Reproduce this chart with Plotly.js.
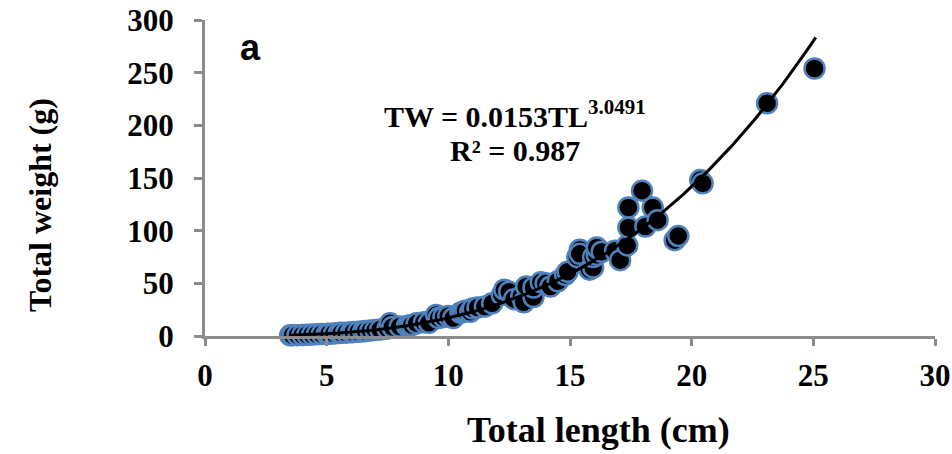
<!DOCTYPE html>
<html>
<head>
<meta charset="utf-8">
<script src="https://cdn.plot.ly/plotly-3.0.1.min.js"></script>
<style>html,body{margin:0;padding:0;background:#fff;}#chart{width:952px;height:454px;}</style>
</head>
<body>
<div id="chart"></div>
<script>
// Observed fish: total length (cm) and total weight (g)
const totalLength = [3.5,3.6,3.8,4.0,4.2,4.4,4.6,4.8,5.0,5.1,5.3,5.5,5.6,5.8,6.0,6.1,6.3,6.5,6.6,6.8,
  7.0,7.2,7.5,7.6,7.7,8.0,8.3,8.4,8.5,8.7,9.0,9.2,9.5,9.6,9.8,10.0,10.2,10.5,10.6,10.7,10.9,11.0,11.2,
  11.5,11.8,12.2,12.3,12.5,12.7,13.0,13.1,13.2,13.5,13.5,13.8,14.0,14.2,14.5,14.8,14.9,15.3,15.4,15.4,
  15.8,15.95,15.95,16.1,16.1,16.3,16.85,17.06,17.35,17.4,17.4,17.96,18.1,18.4,18.6,19.3,19.45,20.35,20.45,23.1,25.05];
const totalWeight = [0.6,0.7,0.8,1.0,1.2,1.4,1.6,1.9,2.0,2.2,2.4,2.8,3.0,3.2,3.5,3.8,4.0,4.5,4.8,5.2,
  5.8,6.2,7.0,12,8.5,9.0,9.5,10,10.5,12,13,12.5,20,17,18,19,17,22,23,24,23,26,27,
  28,31,39,44,42,35,38,32,47,37,46,51,50,47,52,58,61,75,82,78,
  63,65,75,77,84,80,81,72,86,103,122,138,104,122,110,91,95,148,145,221,254];
// Power trendline shown on the chart
const fitCoef = 0.0153, fitExp = 3.0491, fitR2 = 0.987;
const fitStart = 3.5, fitEnd = 25.1, fitStep = 0.1;
const xTicks = [0,5,10,15,20,25,30];
const yTicks = [0,50,100,150,200,250,300];

const fitX = [], fitY = [];
for (let x = fitStart; x <= fitEnd + 1e-9; x += fitStep) { fitX.push(x); fitY.push(fitCoef*Math.pow(x, fitExp)); }

const serif = 'Liberation Serif';
const axisCol = '#8c8c8c';
// plot-area geometry (pixels) used to place free texts
const L = 205, R = 935, T = 20, B = 336;
const px = x => (x - L) / (R - L);
const py = y => (B - y) / (B - T);

const traces = [
  {x: totalLength, y: totalWeight, type: 'scatter', mode: 'markers', cliponaxis: false,
   marker: {color: '#000000', size: 20, line: {color: '#4f81bd', width: 2.5}}, showlegend: false, hoverinfo: 'x+y'},
  {x: fitX, y: fitY, type: 'scatter', mode: 'lines', cliponaxis: false,
   line: {color: '#000000', width: 3}, showlegend: false, hoverinfo: 'skip'}
];

const layout = {
  width: 952, height: 454,
  margin: {l: L, r: 952 - R, t: T, b: 454 - B},
  paper_bgcolor: '#ffffff', plot_bgcolor: '#ffffff',
  showlegend: false,
  xaxis: {range: [0, 30], tickvals: xTicks, ticktext: xTicks.map(v => '<b>' + v + '</b>'), showgrid: false, zeroline: false,
    showline: true, linecolor: axisCol, linewidth: 3, ticks: 'outside', ticklen: 7, tickwidth: 3, tickcolor: axisCol,
    ticklabelstandoff: 3,
    tickfont: {family: serif, size: 31, color: '#000'}},
  yaxis: {range: [0, 300], tickvals: yTicks, ticktext: yTicks.map(v => '<b>' + v + '</b>'), showgrid: false, zeroline: false,
    showline: true, linecolor: axisCol, linewidth: 3, ticks: 'outside', ticklen: 8, tickwidth: 3, tickcolor: axisCol,
    ticklabelstandoff: 14,
    tickfont: {family: serif, size: 31, color: '#000'}},
  annotations: [
    {xref: 'paper', yref: 'paper', x: px(598), y: py(430), text: '<b>Total length (cm)</b>', showarrow: false,
     font: {family: serif, size: 36, color: '#000'}, xanchor: 'center', yanchor: 'middle'},
    {xref: 'paper', yref: 'paper', x: px(40), y: py(205), text: '<b>Total weight (g)</b>', showarrow: false, textangle: -90,
     font: {family: serif, size: 32, color: '#000'}, xanchor: 'center', yanchor: 'middle'},
    {xref: 'paper', yref: 'paper', x: px(250), y: py(47), text: '<b>a</b>', showarrow: false,
     font: {family: 'Liberation Sans', size: 36, color: '#000'}, xanchor: 'center', yanchor: 'middle'},
    {xref: 'paper', yref: 'paper', x: px(515), y: py(114), text: '<b>TW = ' + fitCoef + 'TL<sup>' + fitExp + '</sup></b>', showarrow: false,
     font: {family: serif, size: 30, color: '#000'}, xanchor: 'center', yanchor: 'middle'},
    {xref: 'paper', yref: 'paper', x: px(515), y: py(150), text: '<b>R² = ' + fitR2 + '</b>', showarrow: false,
     font: {family: serif, size: 30, color: '#000'}, xanchor: 'center', yanchor: 'middle'}
  ]
};

Plotly.newPlot('chart', traces, layout, {displayModeBar: false, staticPlot: true});
</script>
</body>
</html>
